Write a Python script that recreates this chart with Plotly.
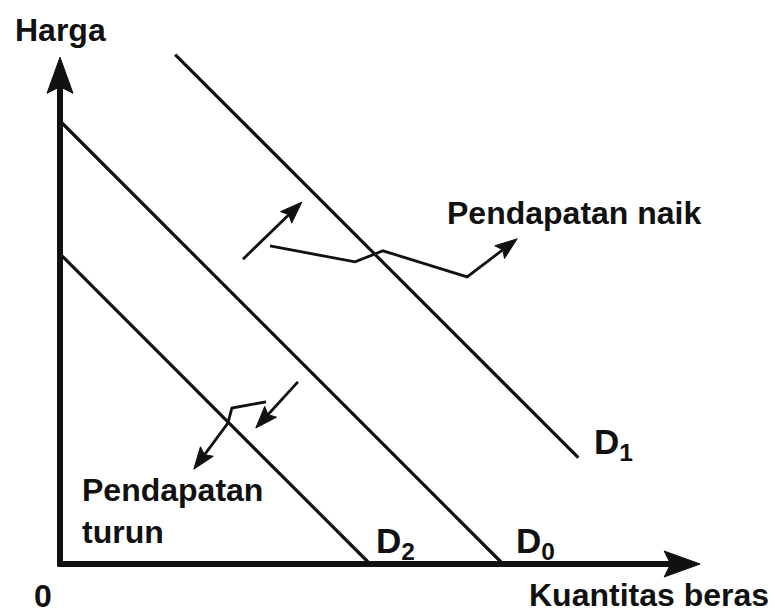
import numpy as np
import plotly.graph_objects as go

# Demand curves as straight lines: end points (quantity, price)
d0_q = [0.0, 10.0]
d0_p = [10.0, 0.0]
d1_q = [2.6, 11.7]
d1_p = [11.5, 2.4]
d2_q = [0.0, 7.0]
d2_p = [7.0, 0.0]

curve_labels = ["D<sub>0</sub>", "D<sub>1</sub>", "D<sub>2</sub>"]

# Axis extents
q_axis_end = 14.45
p_axis_end = 11.44

# Shift arrows and their leader lines (quantity, price)
naik_arrow_q = [4.13, 5.46]
naik_arrow_p = [6.88, 8.17]
naik_leader_q = [4.74, 6.66, 7.29, 9.19, 10.32]
naik_leader_p = [7.18, 6.82, 7.07, 6.48, 7.34]
turun_arrow_q = [5.37, 4.42]
turun_arrow_p = [4.11, 3.07]
turun_leader_q = [4.65, 3.88, 3.79, 3.02]
turun_leader_p = [3.66, 3.52, 3.18, 2.14]

W, H = 775, 615
PX = 44.3             # pixels per unit on both axes
ORIGIN = (60, 564)    # pixel position of the origin

FONT = "Liberation Sans"
INK = "#111111"

fig = go.Figure()


def line(qs, ps, width):
    fig.add_trace(go.Scatter(x=qs, y=ps, mode="lines",
                             line=dict(color=INK, width=width),
                             hoverinfo="skip", showlegend=False))


def arrow(qs, ps, width, head_len, head_half):
    qs = np.asarray(qs, float)
    ps = np.asarray(ps, float)
    tip = np.array([qs[-1], ps[-1]])
    d = tip - np.array([qs[-2], ps[-2]])
    d /= np.hypot(*d)
    n = np.array([-d[1], d[0]])
    L, Hh = head_len / PX, head_half / PX
    base = tip - d * L
    notch = tip - d * L * 0.82
    end = tip - d * L * 0.6
    line(list(qs[:-1]) + [end[0]], list(ps[:-1]) + [end[1]], width)
    hx = [tip[0], base[0] + n[0] * Hh, notch[0], base[0] - n[0] * Hh, tip[0]]
    hy = [tip[1], base[1] + n[1] * Hh, notch[1], base[1] - n[1] * Hh, tip[1]]
    fig.add_trace(go.Scatter(x=hx, y=hy, mode="lines", fill="toself",
                             fillcolor=INK, line=dict(color=INK, width=1),
                             hoverinfo="skip", showlegend=False))


# Axes with arrow heads
arrow([0, 0], [-0.05, p_axis_end], 6, 36, 13)
arrow([-0.05, q_axis_end], [0, 0], 6, 36, 13)

# Demand curves
line(d0_q, d0_p, 3.2)
line(d1_q, d1_p, 3.2)
line(d2_q, d2_p, 3.2)

# Income shift arrows
arrow(naik_arrow_q, naik_arrow_p, 2.8, 22, 8)
arrow(naik_leader_q, naik_leader_p, 2.8, 22, 8)
arrow(turun_arrow_q, turun_arrow_p, 2.8, 22, 8)
arrow(turun_leader_q, turun_leader_p, 2.8, 22, 8)


def label(text, x, y, xanchor="left", size=32, **kw):
    fig.add_annotation(x=x, y=y, text=text, showarrow=False,
                       xanchor=xanchor, yanchor="middle",
                       font=dict(family=FONT, size=size, color=INK,
                                 weight="bold"), **kw)


label("Harga", 0.02, 12.05, xanchor="center")
label("0", -0.38, -0.72, xanchor="center")
label("Kuantitas beras", 16.05, -0.70, xanchor="right", size=32)
label("Pendapatan naik", 8.69, 7.93)
label("Pendapatan<br>turun", 0.45, 1.2, align="left")
label(curve_labels[1], 12.0, 2.72, size=35)
label(curve_labels[2], 7.08, 0.47, size=35)
label(curve_labels[0], 10.24, 0.47, size=35)

x0 = -ORIGIN[0] / PX
y0 = -(H - ORIGIN[1]) / PX
fig.update_layout(
    width=W, height=H,
    margin=dict(l=0, r=0, t=0, b=0),
    paper_bgcolor="white", plot_bgcolor="white",
    xaxis=dict(range=[x0, x0 + W / PX], visible=False, fixedrange=True),
    yaxis=dict(range=[y0, y0 + H / PX], visible=False, fixedrange=True),
    showlegend=False,
)

fig.write_html("out.html", config={"displayModeBar": False})
